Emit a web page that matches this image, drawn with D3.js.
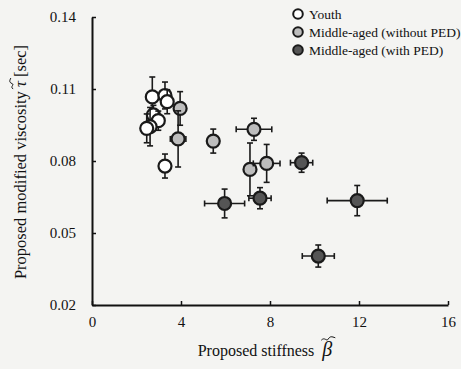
<!DOCTYPE html>
<html>
<head>
<meta charset="utf-8">
<script src="https://cdn.jsdelivr.net/npm/d3@7"></script>
<style>
  body { margin: 0; background: #f4f4f2; }
  svg { display: block; font-family: "Liberation Serif", "Times New Roman", serif; }
</style>
</head>
<body>
<svg id="chart" width="461" height="369"></svg>
<script>
// data: stiffness (x), viscosity (y), error half-widths
var groups = ['Youth', 'Middle-aged (without PED)', 'Middle-aged (with PED)'];
var groupFill = ['#ffffff', '#bdbdbd', '#555555'];

var youthX    = [2.71, 3.28, 3.38, 2.76, 2.98, 2.61, 2.46, 3.28];
var youthY    = [0.1067, 0.1073, 0.1047, 0.0992, 0.0968, 0.0943, 0.0936, 0.0779];
var youthXErr = [0.1, 0.1, 0.1, 0.1, 0.1, 0.1, 0.1, 0.1];
var youthYErr = [0.0083, 0.0056, 0.005, 0.004, 0.004, 0.008, 0.006, 0.005];

var noPedX    = [3.96, 3.87, 5.45, 7.28, 7.10, 7.85];
var noPedY    = [0.1019, 0.0892, 0.0883, 0.0932, 0.0765, 0.079];
var noPedXErr = [0.15, 0.35, 0.15, 0.8, 0.2, 0.6];
var noPedYErr = [0.007, 0.0117, 0.005, 0.0046, 0.011, 0.0079];

var pedX    = [5.96, 7.55, 9.42, 11.92, 10.17];
var pedY    = [0.0623, 0.0645, 0.0793, 0.0635, 0.0404];
var pedXErr = [0.9, 0.5, 0.5, 1.35, 0.72];
var pedYErr = [0.006, 0.0044, 0.004, 0.0063, 0.0046];

var xTicks = [0, 4, 8, 12, 16];
var yTicks = [0.02, 0.05, 0.08, 0.11, 0.14];

var svg = d3.select('#chart');
var mLeft = 92, mRight = 448, mTop = 17, mBottom = 305;

var x = d3.scaleLinear().domain([0, 16]).range([mLeft, mRight]);
var y = d3.scaleLinear().domain([0.02, 0.14]).range([mBottom, mTop]);

// build one list of points per group
function pts(xs, ys, xe, ye, g) {
	return xs.map(function(v, i) { return {x: v, y: ys[i], xe: xe[i], ye: ye[i], g: g}; });
}
var data = pts(youthX, youthY, youthXErr, youthYErr, 0)
	.concat(pts(noPedX, noPedY, noPedXErr, noPedYErr, 1))
	.concat(pts(pedX, pedY, pedXErr, pedYErr, 2));

// Axes
var yAxis = svg.append('g')
	.attr('transform', 'translate(' + mLeft + ',0)')
	.call(d3.axisLeft(y).tickValues(yTicks).tickFormat(d3.format('.2f'))
		.tickSize(-4).tickSizeOuter(0).tickPadding(16));

var xAxis = svg.append('g')
	.attr('transform', 'translate(0,' + mBottom + ')')
	.call(d3.axisBottom(x).tickValues(xTicks).tickFormat(d3.format('d'))
		.tickSize(-4).tickSizeOuter(0).tickPadding(11));

[xAxis, yAxis].forEach(function(a) {
	a.select('.domain').attr('stroke', '#111').attr('stroke-width', 2);
	a.selectAll('.tick line').attr('stroke', '#111').attr('stroke-width', 1.5);
	a.selectAll('.tick text').attr('fill', '#111').style('font-size', '15px')
		.style('font-family', '"Liberation Serif", serif');
});

// Error bars and markers
var cap = 3;
var pg = svg.append('g').attr('stroke', '#1a1a1a');
var pt = pg.selectAll('.pt').data(data).enter().append('g').attr('class', 'pt');

pt.append('line')
	.attr('x1', function(d) { return x(d.x); }).attr('x2', function(d) { return x(d.x); })
	.attr('y1', function(d) { return y(d.y - d.ye); }).attr('y2', function(d) { return y(d.y + d.ye); })
	.attr('stroke-width', 1.6);
pt.append('line')
	.attr('x1', function(d) { return x(d.x - d.xe); }).attr('x2', function(d) { return x(d.x + d.xe); })
	.attr('y1', function(d) { return y(d.y); }).attr('y2', function(d) { return y(d.y); })
	.attr('stroke-width', 1.6);
[-1, 1].forEach(function(s) {
	pt.append('line')
		.attr('x1', function(d) { return x(d.x) - cap; }).attr('x2', function(d) { return x(d.x) + cap; })
		.attr('y1', function(d) { return y(d.y + s * d.ye); }).attr('y2', function(d) { return y(d.y + s * d.ye); })
		.attr('stroke-width', 1.6);
	pt.append('line')
		.attr('x1', function(d) { return x(d.x + s * d.xe); }).attr('x2', function(d) { return x(d.x + s * d.xe); })
		.attr('y1', function(d) { return y(d.y) - cap; }).attr('y2', function(d) { return y(d.y) + cap; })
		.attr('stroke-width', 1.6);
});
pt.append('circle')
	.attr('cx', function(d) { return x(d.x); })
	.attr('cy', function(d) { return y(d.y); })
	.attr('r', 6.5)
	.attr('fill', function(d) { return groupFill[d.g]; })
	.attr('stroke-width', 2.2);

// Legend
var lg = svg.append('g').attr('transform', 'translate(298,14)');
var row = lg.selectAll('g').data(groups).enter().append('g')
	.attr('transform', function(d, i) { return 'translate(0,' + i * 18 + ')'; });
row.append('circle').attr('r', 4.8).attr('fill', function(d, i) { return groupFill[i]; })
	.attr('stroke', '#1a1a1a').attr('stroke-width', 2);
row.append('text').attr('x', 11).attr('dy', '0.35em')
	.style('font-size', '13.5px').attr('fill', '#111')
	.text(function(d) { return d; });

// Axis titles, tilde drawn as a small curve over the symbol
function tilde(g, cx, cy, w) {
	g.append('path')
		.attr('d', 'M' + (cx - w / 2) + ',' + (cy + 1.2) +
			' C' + (cx - w / 4) + ',' + (cy - 2.5) + ' ' + (cx - w / 8) + ',' + (cy + 3) + ' ' + cx + ',' + cy +
			' S' + (cx + w / 4) + ',' + (cy - 2.5) + ' ' + (cx + w / 2) + ',' + (cy - 1.2))
		.attr('fill', 'none').attr('stroke', '#111').attr('stroke-width', 1);
}

var ytg = svg.append('g').attr('transform', 'translate(26,162) rotate(-90)');
var yt = ytg.append('text')
	.attr('text-anchor', 'middle')
	.style('font-size', '16.5px').attr('fill', '#111');
yt.append('tspan').text('Proposed modified viscosity ');
yt.append('tspan').style('font-style', 'italic').text('τ');
yt.append('tspan').text(' [sec]');
var tauIdx = 'Proposed modified viscosity '.length;
var tb = yt.node().getExtentOfChar(tauIdx);
tilde(ytg, tb.x + tb.width / 2 + 0.5, tb.y + 1, 11);

var xtg = svg.append('g');
var xt = xtg.append('text')
	.attr('x', 265).attr('y', 356)
	.attr('text-anchor', 'middle')
	.style('font-size', '16px').attr('fill', '#111');
xt.append('tspan').text('Proposed stiffness');
xt.append('tspan').attr('dx', 8).style('font-style', 'italic').style('font-size', '20px').text('β');
var betaIdx = 'Proposed stiffness'.length;
var bb = xt.node().getExtentOfChar(betaIdx);
tilde(xtg, bb.x + bb.width / 2 + 1, bb.y + 1, 14);
</script>
</body>
</html>
